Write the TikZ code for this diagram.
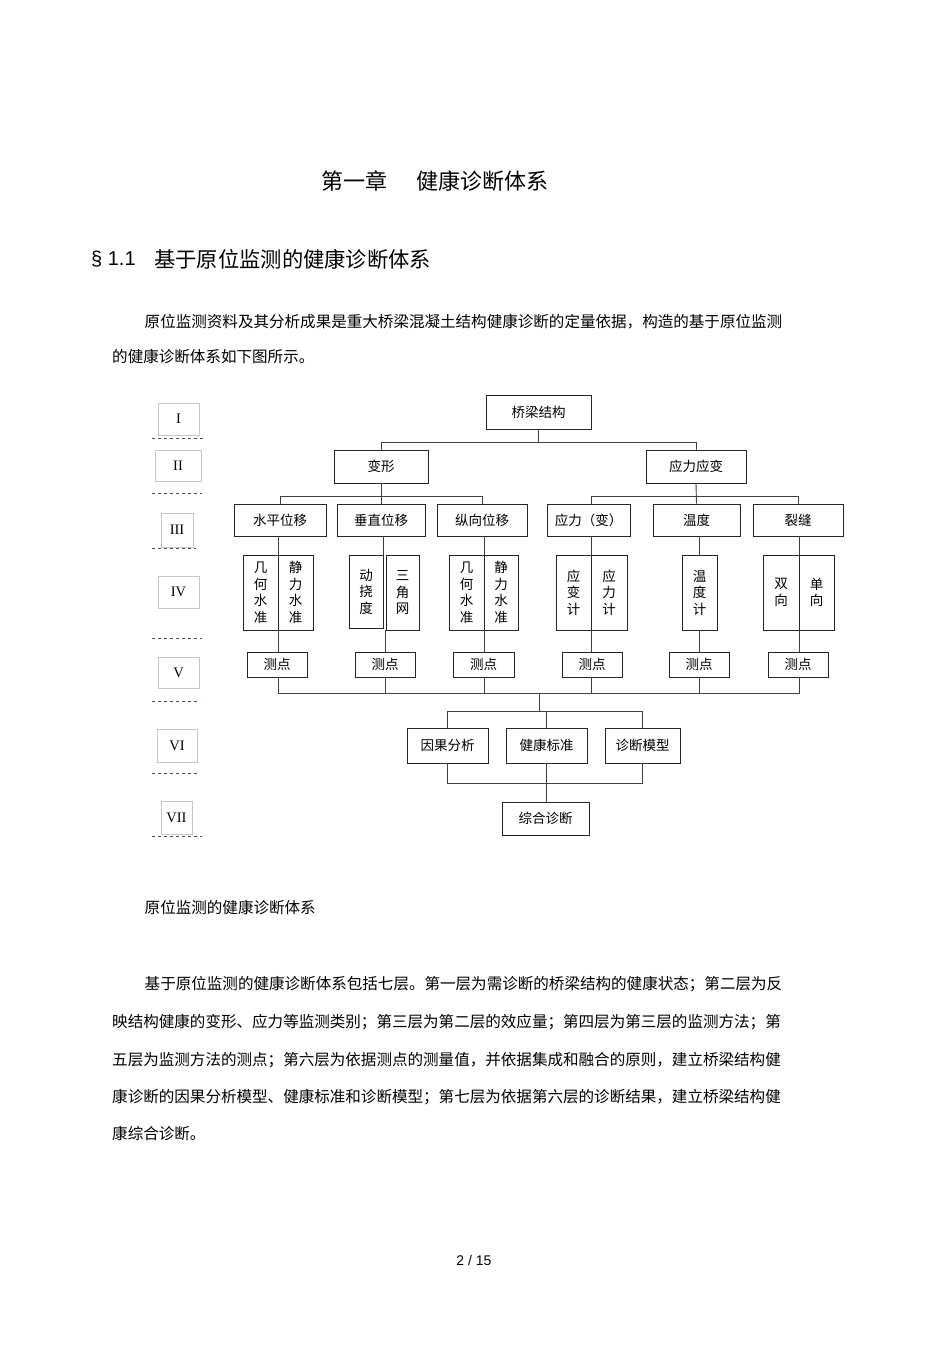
\documentclass[tikz,border=0pt]{standalone}
\usepackage{fontspec}
\setmainfont{Noto Sans CJK SC}
\newfontfamily\arial{Liberation Sans}
\newfontfamily\tnr{Liberation Serif}
\usetikzlibrary{shadows,calc}
\newcommand\mybox[7][]{\node[#1,minimum width={(#5-#3)*1pt},minimum height={(#6-#4)*1pt}] (#2) at ({(#3+#5)/2},{(#4+#6)/2}) {#7};}
\begin{document}
\begin{tikzpicture}[x=1pt,y=-1pt,
  box/.style={draw=black!85, line width=0.9pt, fill=white, inner sep=0pt, align=center,
    font=\fontsize{13.5}{16.5}\selectfont,
    drop shadow={shadow xshift=1.2pt, shadow yshift=-1.2pt, fill=black!85, opacity=1}},
  lv/.style={draw=black!22, line width=0.8pt, fill=white, inner sep=0pt,
    font=\tnr\fontsize{14.5}{16}\selectfont,
    drop shadow={shadow xshift=1pt, shadow yshift=-1pt, fill=black!12, opacity=1}},
  dl/.style={draw=black!70, line width=0.8pt, dash pattern=on 2.5pt off 3.5pt},
  cn/.style={draw=black!75, line width=0.9pt},
  txt/.style={anchor=west, inner sep=0pt, font=\fontsize{15.55}{18}\selectfont},
]
\fill[white] (0,0) rectangle (950,1345);
\useasboundingbox (0,0) rectangle (950,1345);

% headings and text
\node[anchor=west, inner sep=0pt, font=\fontsize{22}{26}\selectfont] (title) at (321,181) {第一章\hspace{29pt}健康诊断体系};
\node[anchor=west, inner sep=0pt, font=\arial\fontsize{20}{24}\selectfont] (sec1) at (91,259) {§ 1.1};
\node[anchor=west, inner sep=0pt, font=\fontsize{21.3}{24}\selectfont] (sec2) at (154,259) {基于原位监测的健康诊断体系};
\node[txt] (p1a) at (144.5,322) {原位监测资料及其分析成果是重大桥梁混凝土结构健康诊断的定量依据，构造的基于原位监测};
\node[txt] (p1b) at (112,357) {的健康诊断体系如下图所示。};
\node[txt] (cap) at (144.5,908) {原位监测的健康诊断体系};
\node[txt] (p2a) at (144.5,984) {基于原位监测的健康诊断体系包括七层。第一层为需诊断的桥梁结构的健康状态；第二层为反};
\node[txt] (p2b) at (112,1022) {映结构健康的变形、应力等监测类别；第三层为第二层的效应量；第四层为第三层的监测方法；第};
\node[txt] (p2c) at (112,1060) {五层为监测方法的测点；第六层为依据测点的测量值，并依据集成和融合的原则，建立桥梁结构健};
\node[txt] (p2d) at (112,1097) {康诊断的因果分析模型、健康标准和诊断模型；第七层为依据第六层的诊断结果，建立桥梁结构健};
\node[txt] (p2e) at (112,1134) {康综合诊断。};
\node[inner sep=0pt, font=\arial\fontsize{14}{16}\selectfont] (pg) at (474,1260) {2 / 15};

% level labels
\mybox[lv]{r1}{158}{403}{199}{435}{I}
\mybox[lv]{r2}{155}{450}{201}{481}{II}
\mybox[lv]{r3}{161}{513}{193}{547}{III}
\mybox[lv]{r4}{158}{576}{199}{608}{IV}
\mybox[lv]{r5}{158}{657}{199}{688}{V}
\mybox[lv]{r6}{157}{729}{197}{762}{VI}
\mybox[lv]{r7}{161}{801}{192}{834}{VII}
\draw[dl] (152,438) -- (203,438);
\draw[dl] (152,493) -- (202,493);
\draw[dl] (152,548) -- (196,548);
\draw[dl] (152,638) -- (202,638);
\draw[dl] (152,701) -- (200,701);
\draw[dl] (152,773) -- (198,773);
\draw[dl] (152,836) -- (202,836);

% boxes
\mybox[box]{qljg}{486}{395}{591}{429}{桥梁结构}
\mybox[box]{bx}{334}{450}{428}{483}{变形}
\mybox[box]{ylyb}{646}{450}{746}{483}{应力应变}
\mybox[box]{spwy}{234}{504}{326}{536}{水平位移}
\mybox[box]{czwy}{337}{504}{425}{536}{垂直位移}
\mybox[box]{zxwy}{437}{504}{527}{536}{纵向位移}
\mybox[box]{ylb}{547}{504}{630}{536}{应力（变）}
\mybox[box]{wd}{653}{504}{740}{536}{温度}
\mybox[box]{lf}{753}{504}{843}{536}{裂缝}
\mybox[box]{a1}{243}{555}{278}{630}{几\\何\\水\\准}
\mybox[box]{a2}{278}{555}{313}{630}{静\\力\\水\\准}
\mybox[box]{b1}{349}{555}{383}{628}{动\\挠\\度}
\mybox[box]{b2}{386}{555}{419}{630}{三\\角\\网}
\mybox[box]{c1}{449}{555}{484}{630}{几\\何\\水\\准}
\mybox[box]{c2}{484}{555}{518}{630}{静\\力\\水\\准}
\mybox[box]{d1}{556}{555}{591}{630}{应\\变\\计}
\mybox[box]{d2}{591}{555}{627}{630}{应\\力\\计}
\mybox[box]{e1}{682}{555}{717}{630}{温\\度\\计}
\mybox[box]{f1}{763}{555}{799}{630}{双\\向}
\mybox[box]{f2}{799}{555}{834}{630}{单\\向}
\mybox[box]{q1}{247}{652}{307}{677}{测点}
\mybox[box]{q2}{355}{652}{415}{677}{测点}
\mybox[box]{q3}{453}{652}{514}{677}{测点}
\mybox[box]{q4}{562}{652}{622}{677}{测点}
\mybox[box]{q5}{669}{652}{729}{677}{测点}
\mybox[box]{q6}{768}{652}{828}{677}{测点}
\mybox[box]{g1}{407}{728}{488}{763}{因果分析}
\mybox[box]{g2}{506}{728}{587}{763}{健康标准}
\mybox[box]{g3}{605}{728}{680}{763}{诊断模型}
\mybox[box]{zh}{502}{802}{589}{835}{综合诊断}

% connectors
\draw[cn] (qljg.south) -- ++(0,13) coordinate (t1);
\draw[cn] (bx.north) |- (t1) -| (ylyb.north);
\draw[cn] (bx.south) -- (czwy.north);
\draw[cn] (spwy.north) |- ($(bx.south)+(0,13)$) -| (zxwy.north);
\draw[cn] (ylyb.south) -- (wd.north);
\draw[cn] (ylb.north -| d1.north east) |- ($(ylyb.south)+(0,13)$) -| (lf.north);

\draw[cn] (spwy.south -| a1.north east) -- (a1.north east);
\draw[cn] (czwy.south -| b1.north east) -- (b1.north east);
\draw[cn] (zxwy.south -| c1.north east) -- (c1.north east);
\draw[cn] (ylb.south -| d1.north east) -- (d1.north east);
\draw[cn] (wd.south -| e1.north) -- (e1.north);
\draw[cn] (lf.south -| f1.north east) -- (f1.north east);

\draw[cn] (a1.south east) -- (a1.south east |- q1.north);
\draw[cn] (b2.south west) -- (b2.south west |- q2.north);
\draw[cn] (c1.south east) -- (c1.south east |- q3.north);
\draw[cn] (d1.south east) -- (d1.south east |- q4.north);
\draw[cn] (e1.south) -- (e1.south |- q5.north);
\draw[cn] (f1.south east) -- (f1.south east |- q6.north);

\coordinate (bus) at (539,693);
\draw[cn] (q1.south -| a1.south east) |- (bus);
\draw[cn] (q6.south -| f1.south east) |- (bus);
\draw[cn] (q2.south -| b2.south west) -- (bus -| b2.south west);
\draw[cn] (q3.south -| c1.south east) -- (bus -| c1.south east);
\draw[cn] (q4.south -| d1.south east) -- (bus -| d1.south east);
\draw[cn] (q5.south -| e1.south) -- (bus -| e1.south);

\draw[cn] (bus) -- ++(0,18) coordinate (bus2);
\draw[cn] (g1.north) |- (bus2) -| (g3.north);
\draw[cn] (g2.north) -- (g2.north |- bus2);
\draw[cn] (g1.south) -- ++(0,20) coordinate (low) -| (g3.south);
\draw[cn] (g2.south) -- (g2.south |- zh.north);
\end{tikzpicture}
\end{document}
